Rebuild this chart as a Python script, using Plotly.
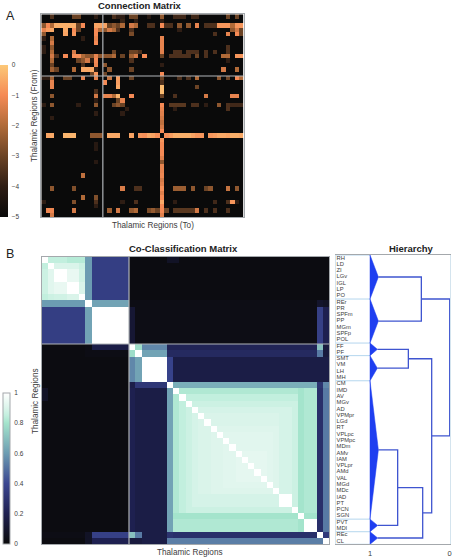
import numpy as np
import plotly.graph_objects as go

W, H = 455, 559
REGIONS = ["RH","LD","ZI","LGv","IGL","LP","PO","REr","PR","SPFm","PP","MGm","SPFp","POL",
           "FF","PF","SMT","VM","LH","MH","CM","IMD","AV","MGv","AD","VPMpr","LGd","RT",
           "VPLpc","VPMpc","MDm","AMv","IAM","VPLpr","AMd","VAL","MGd","MDc","IAD","PT",
           "PCN","SGN","PVT","MDI","REc","CL"]

# Connection matrix: row -> {column: log10 strength}; everything else is the -5 floor
CONN = {
 0: {2:-3.5,7:-3,8:-3,12:-4,16:-3.5,17:-4,18:-4,20:-3,21:-3,24:-4.2,27:-2.5,30:-3.7,31:-3.7,32:-3.7,34:-3.7,35:-3.7,42:-3,44:-3},
 1: {18:-3.8,21:-4,27:-4},
 2: {0:-2.5,1:-1,2:-2,3:-.4,4:-.4,5:-.4,6:-.4,7:-.4,8:-3,9:-1,12:-.6,13:-.6,14:-.6,15:-3,16:-2.5,17:-3,18:-2,20:-1.5,21:-2,24:-3.5,25:-3.5,27:-1,28:-3.5,29:-3.5,31:-2.5,33:-2.5,35:-1.2,37:-3.5,38:-3.5,39:-3.5,40:-.8,41:-.8,42:-.8,43:-2,44:-.8,45:-.8},
 3: {0:-1.2,1:-.7,2:-.5,5:-.5,7:-1,8:-3,12:-1,13:-2,14:-2.5,15:-1.5,16:-2,17:-3.5,20:-3.5,31:-4,43:-2.5,44:-1.5,45:-3},
 4: {0:-2.5,5:-.6,7:-.8,12:-1,20:-2.8,39:-3.5,42:-1.2,44:-1,45:-3},
 5: {0:-4,2:-2,9:-4,12:-1.2,27:-1.2},
 6: {2:-1.5,12:-1,27:-1.2},
 7: {0:-4,2:-2.5,27:-1.2,42:-3.5},
 8: {0:-4,2:-2,7:-1.5,16:-3,20:-3,21:-3,22:-3.5,27:-1.3,30:-3.5,31:-3.5,33:-3.5,34:-3.5,35:-3.5,37:-3.5,39:-3.5,42:-3.5},
 9: {2:-1.5,3:-3.5,5:-1,7:-.9,8:-.9,9:-2,10:-2.5,11:-2.5,12:-1.2,13:-2.5,14:-2.5,15:-2.5,16:-2,18:-3,20:-2.2,21:-1.5,23:-1,27:-3,29:-3.5,30:-3.5,31:-3.5,32:-3.5,33:-3.5,35:-3,37:-3.5,41:-2,42:-2,44:-.8,45:-.8},
 10:{2:-2,8:-3,9:-2.5,10:-1.5,11:-4,12:-1,20:-3.5,42:-4},
 11:{2:-3,9:-3.5,12:-1.1,14:-2.5,27:-4},
 12:{2:-2.2,3:-3,7:-2,9:-.5,10:-.5,11:-.5,12:-4,15:-2.5,20:-3,41:-1.5,44:-2},
 13:{11:-3,12:-.8,14:-3,27:-1},
 14:{0:-4,1:-4,2:-2.2,5:-3,6:-3,9:-1.2,12:-1.2,15:-1.7,17:-.7,20:-3,27:-3,31:-3.5,33:-3.5,35:-2,40:-2.5,42:-3,44:-1,45:-2},
 15:{2:-1.2,14:-1,17:-.7,27:-3.5},
 16:{2:-1.2,17:-.5,27:-.2,35:-3},
 17:{12:-3.5,27:-.2},
 18:{2:-2.5,12:-1.5,14:-1.2,15:-1.2,16:-2,17:-.3,20:-1,27:-3,30:-3.5,37:-1.5,43:-1.2,44:-1.2},
 19:{12:-4,17:-3,18:-1.2},
 20:{0:-4,2:-2.5,8:-4,12:-2.5,16:-3,17:-2.5,18:-3,27:-1,29:-3.3,30:-3.3,31:-3.3,32:-3.3,34:-3.5,35:-3.5,37:-4,40:-2.5,42:-3.5,43:-3.7,44:-3.7,45:-3.7},
 21:{19:-4,27:-1.2,30:-4,42:-3.5},
 22:{12:-4,18:-4,27:-1.3},
 23:{2:-4,27:-1.5},
 24:{27:-1.8},
 25:{27:-1.5},
 26:{27:-1},
 27:{1:-.6,2:-.5,5:-.3,6:-.3,7:-.3,11:-2.5,12:-2.5,13:-2.5,15:-.5,16:-.5,17:-.5,20:-.6,22:-.8,23:-.9,24:-.5,25:-.6,26:-.9,28:-.9,29:-.7,30:-.4,31:-.4,32:-.4,33:-.4,34:-.6,35:-.8,36:-.8,38:-.8,39:-.7,40:-.5,41:-.5,42:-.6,43:-.4,44:-.4,45:-.5},
 28:{27:-.8},
 29:{12:-4.2,27:-1},
 30:{12:-4.2,27:-1},
 31:{27:-1},
 32:{27:-1.3},
 33:{12:-4.2,27:-2.5},
 34:{27:-1.2},
 35:{27:-1.2},
 36:{9:-1.8,27:-1.1},
 37:{27:-1.5},
 38:{27:-1.3},
 39:{2:-2.5,7:-2.7,18:-1.4,21:-3.5,22:-3.5,27:-.9,30:-2.3,31:-2.3,32:-2.3,34:-2.5,37:-3,38:-2.5,42:-1.7,44:-2.5},
 40:{27:-1.3},
 41:{9:-2,12:-2.7,27:-1},
 42:{0:-4,7:-2.7,12:-3.5,18:-4,21:-3.5,27:-.5,30:-4,39:-3.7,42:-3.5,43:-.8,44:-4},
 43:{12:-4,27:-1},
 44:{1:-1.1,2:-1.1,7:-1.5,15:-2.3,17:-1.5,20:-2.4,21:-2,24:-2.8,25:-2.4,26:-3,27:-1,28:-3,30:-3.3,31:-3.3,32:-3.3,33:-3.3,34:-3.3,35:-1.5,37:-3.5,39:-3.5,42:-3.5},
 45:{2:-1.5,27:-1.3},
}
CONN_FLOOR = -5

# Co-classification matrix, percent, as (value, repeat) runs along each row
TOP_LEFT = [
 [(100,1),(85,3),(83,3)],
 [(85,1),(100,1),(90,4),(87,1)],
 [(87,1),(92,1),(100,2),(94,2),(88,1)],
 [(87,1),(92,1),(100,2),(94,2),(88,1)],
 [(87,1),(92,1),(94,2),(100,2),(90,1)],
 [(87,1),(92,1),(94,2),(100,2),(90,1)],
 [(85,1),(87,1),(88,2),(90,2),(100,1)],
]
TOP_RIGHT = [(60,1),(36,6),(2,32)]
ROW0_RIGHT = [(60,1),(36,6),(2,6),(8,2),(2,24)]
ROW7 = [(60,7),(100,1),(62,6),(3,30),(10,1),(8,1)]
ROW8_13 = [(36,7),(62,1),(100,6),(12,1),(3,29),(37,1),(20,1)]
ROW14 = [(2,7),(3,1),(17,6),(100,1),(78,1),(55,4),(22,24),(70,1),(15,1)]
ROW15 = [(2,7),(3,1),(3,6),(78,1),(100,1),(62,4),(25,24),(52,1),(15,1)]
ROW16_19 = [(2,14),(55,1),(62,1),(100,4),(38,1),(17,25)]
ROW20 = [(2,14),(18,1),(32,5),(100,1),(65,23),(30,1),(55,1)]
BIG_LEFT = [(2,14),(20,1),(17,5),(62,1)]
BIG_RIGHT = [(28,1),(52,1)]
PREFIX = [(82,1),(85,1),(87,1),(89,1),(90,2),(91,2),(92,2)]
TAIL = [(91,1),(89,2),(87,1),(80,1),(82,2)]
BIG_INNER = [
 [(100,1),(82,19),(80,1),(82,2)],
 [(82,1),(100,1),(85,18),(80,1),(82,2)],
 [(82,1),(85,1),(100,1),(87,17),(80,1),(82,2)],
 [(82,1),(85,1),(87,1),(100,1),(89,15),(87,1),(80,1),(82,2)],
 [(82,1),(85,1),(87,1),(89,1),(100,1),(90,12),(89,2),(87,1),(80,1),(82,2)],
 [(82,1),(85,1),(87,1),(89,1),(90,1),(100,1),(90,11),(89,2),(87,1),(80,1),(82,2)],
 [(82,1),(85,1),(87,1),(89,1),(90,2),(100,1),(91,10),(89,2),(87,1),(80,1),(82,2)],
 [(82,1),(85,1),(87,1),(89,1),(90,2),(91,1),(100,1),(92,8)]+TAIL,
 [(82,1),(85,1),(87,1),(89,1),(90,2),(91,2),(100,1),(92,7)]+TAIL,
 [(82,1),(85,1),(87,1),(89,1),(90,2),(91,2),(92,1),(100,1),(92,6)]+TAIL,
 PREFIX+[(100,1),(93,4),(92,1)]+TAIL,
 PREFIX+[(93,1),(100,1),(93,3),(92,1)]+TAIL,
 PREFIX+[(93,2),(100,1),(93,2),(92,1)]+TAIL,
 PREFIX+[(93,3),(100,1),(93,1),(92,1)]+TAIL,
 PREFIX+[(93,4),(100,1),(92,1)]+TAIL,
 PREFIX+[(92,5),(100,1)]+TAIL,
 [(82,1),(85,1),(87,1),(89,1),(90,2),(91,2),(91,8),(100,1),(89,2),(87,1),(80,1),(82,2)],
 [(82,1),(85,1),(87,1),(89,14),(100,2),(87,1),(80,1),(82,2)],
 [(82,1),(85,1),(87,1),(89,14),(100,2),(87,1),(80,1),(82,2)],
 [(82,1),(85,1),(87,17),(100,1),(80,1),(82,2)],
 [(80,20),(100,1),(80,2)],
 [(82,20),(80,1),(100,2)],
 [(82,20),(80,1),(100,2)],
]
ROW21_22_LEFT = [(8,1),(2,13),(20,1),(17,5),(62,1)]
ROW44 = [(3,7),(8,1),(37,6),(70,1),(52,1),(17,4),(30,1),(28,23),(100,1),(33,1)]
ROW45 = [(2,7),(8,1),(20,6),(15,2),(17,4),(53,25),(100,1)]

# Dendrogram: clusters by leaf count, their apex similarity, and the merges
CLUSTER_SIZES = [7, 7, 2, 4, 22, 2, 2]
CLUSTER_APEX = [.895, .895, .908, .908, .895, .904, .904]
MERGES = [(0, 1, .356), (2, 3, .519), (4, 5, .653), (9, 6, .339), (8, 10, .226), (7, 11, 0.0)]
CONN_TICKS = [0, -1, -2, -3, -4, -5]
CO_TICKS = [0, .2, .4, .6, .8, 1]

CONN_SCALE = [[0, "#0a0a0a"], [.2, "#2e1d14"], [.4, "#6b4325"], [.6, "#b06a38"], [.8, "#f58a55"], [1, "#fcc878"]]
CO_SCALE = [[0, "#0a0a0a"], [.2, "#1e2050"], [.4, "#3a4690"], [.6, "#6c9cb2"], [.8, "#a4e4cc"], [.85, "#c2efde"], [.9, "#daf4ea"], [1, "#ffffff"]]
GREY = "#a4a8ac"; TXT = "#3c3c3c"; FONT = "Liberation Sans"


def expand(runs):
    return [v for v, n in runs for _ in range(n)]


z_conn = np.full((46, 46), float(CONN_FLOOR))
for r, cells in CONN.items():
    for c, v in cells.items():
        z_conn[r, c] = v

rows = []
for i, tl in enumerate(TOP_LEFT):
    rows.append(expand(tl + (ROW0_RIGHT if i == 0 else TOP_RIGHT)))
rows.append(expand(ROW7))
rows += [expand(ROW8_13)] * 6
rows.append(expand(ROW14))
rows.append(expand(ROW15))
rows += [expand(ROW16_19)] * 4
rows.append(expand(ROW20))
for i, inner in enumerate(BIG_INNER):
    rows.append(expand((ROW21_22_LEFT if i < 2 else BIG_LEFT) + inner + BIG_RIGHT))
rows.append(expand(ROW44))
rows.append(expand(ROW45))
z_co = np.array(rows, dtype=float) / 100


def px(x): return x / W
def py(y): return 1 - y / H


fig = go.Figure()
fig.add_trace(go.Heatmap(z=z_conn, zmin=-5, zmax=0, colorscale=CONN_SCALE, xaxis="x", yaxis="y", hoverinfo="skip",
    colorbar=dict(x=0, xanchor="left", xpad=0, ypad=0, y=py(217), yanchor="bottom", lenmode="pixels", len=152,
                  thicknessmode="pixels", thickness=7.5, outlinewidth=0, tickvals=CONN_TICKS,
                  ticks="outside", ticklen=3, tickcolor="rgba(0,0,0,0)", tickfont=dict(size=6.5, color=TXT, family=FONT))))
fig.add_trace(go.Heatmap(z=z_co, zmin=0, zmax=1, colorscale=CO_SCALE, xaxis="x2", yaxis="y2", hoverinfo="skip",
    colorbar=dict(x=px(2.5), xanchor="left", xpad=0, ypad=0, y=py(544), yanchor="bottom", lenmode="pixels", len=151,
                  thicknessmode="pixels", thickness=7, outlinewidth=1, outlinecolor=GREY, tickvals=CO_TICKS,
                  ticktext=["0", "0.2", "0.4", "0.6", "0.8", "1"],
                  ticks="outside", ticklen=3, tickcolor="rgba(0,0,0,0)", tickfont=dict(size=6.5, color=TXT, family=FONT))))

# Hierarchy panel: group bars, filled triangles, merge brackets, labels
starts = np.cumsum([0] + CLUSTER_SIZES)
for b in starts:
    fig.add_trace(go.Scatter(x=[1.43, 1], y=[b - .5, b - .5], mode="lines", line=dict(color="#b4d6ee", width=1),
                             xaxis="x3", yaxis="y3", hoverinfo="skip", showlegend=False))
node_y, node_x = [], []
for i, n in enumerate(CLUSTER_SIZES):
    a, b = starts[i] - .5, starts[i + 1] - .5
    mid = (a + b) / 2
    node_y.append(mid); node_x.append(CLUSTER_APEX[i])
    fig.add_trace(go.Scatter(x=[1, CLUSTER_APEX[i], 1, 1], y=[a, mid, b, a], mode="lines", fill="toself",
                             fillcolor="#1f3ff0", line=dict(color="#1f3ff0", width=.5), xaxis="x3", yaxis="y3",
                             hoverinfo="skip", showlegend=False))
for c1, c2, h in MERGES:
    fig.add_trace(go.Scatter(x=[node_x[c1], h, h, node_x[c2]], y=[node_y[c1], node_y[c1], node_y[c2], node_y[c2]],
                             mode="lines", line=dict(color="#3f55d0", width=1.3), xaxis="x3", yaxis="y3",
                             hoverinfo="skip", showlegend=False))
    node_y.append((node_y[c1] + node_y[c2]) / 2); node_x.append(h)
fig.add_trace(go.Scatter(x=[1.42] * len(REGIONS), y=list(range(len(REGIONS))), text=REGIONS, mode="text",
                         textposition="middle right", textfont=dict(size=5.8, color=TXT, family=FONT),
                         xaxis="x3", yaxis="y3", hoverinfo="skip", showlegend=False))

hidden = dict(showticklabels=False, ticks="", showgrid=False, zeroline=False, showline=True, mirror=True,
              linecolor=GREY, linewidth=1)
fig.update_layout(
    width=W, height=H, margin=dict(l=0, r=0, t=0, b=0), paper_bgcolor="white", plot_bgcolor="white", showlegend=False,
    xaxis=dict(hidden, domain=[px(41.3), px(243.5)], range=[-.5, 45.5], anchor="y"),
    yaxis=dict(hidden, domain=[py(217), py(14.3)], range=[45.5, -.5], anchor="x"),
    xaxis2=dict(hidden, domain=[px(41.5), px(329)], range=[-.5, 45.5], anchor="y2"),
    yaxis2=dict(hidden, domain=[py(544), py(256.5)], range=[45.5, -.5], anchor="x2"),
    xaxis3=dict(domain=[px(336), px(450.3)], range=[1.427, -.0075], tickvals=[1, 0], ticktext=["1", "0"],
                ticks="outside", ticklen=2, tickcolor="rgba(0,0,0,0)",
                showgrid=False, zeroline=False, showline=True, mirror=True, linecolor=GREY, linewidth=1,
                tickfont=dict(size=7.5, color=TXT, family=FONT), anchor="y3"),
    yaxis3=dict(domain=[py(544.3), py(255)], range=[45.5, -.5], showticklabels=False, ticks="", showgrid=False,
                zeroline=False, showline=True, mirror=True, linecolor="#d4e4ee", linewidth=1, anchor="x3"),
)
for ax, ay in (("x", "y"), ("x2", "y2")):
    fig.add_shape(type="line", xref=ax, yref=ay, x0=13.5, x1=13.5, y0=-.5, y1=45.5, line=dict(color="#b0b4b8", width=1.2))
    fig.add_shape(type="line", xref=ax, yref=ay, x0=-.5, x1=45.5, y0=13.5, y1=13.5, line=dict(color="#b0b4b8", width=1.2))


def note(text, x, y, size, bold=False, angle=0, color=TXT):
    fig.add_annotation(text=f"<b>{text}</b>" if bold else text, x=px(x), y=py(y), xref="paper", yref="paper",
                       showarrow=False, textangle=angle, font=dict(size=size, color=color, family=FONT),
                       xanchor="center", yanchor="middle")


note("Connection Matrix", 140, 6, 9.5, bold=True, color="#222222")
note("Co-Classification Matrix", 183, 248, 9.5, bold=True, color="#222222")
note("Hierarchy", 411, 248, 9.5, bold=True, color="#222222")
note("Thalamic Regions (To)", 153, 225, 8.2)
note("Thalamic Regions (From)", 34, 116, 8.2, angle=-90)
note("Thalamic Regions", 190, 552, 8.2)
note("Thalamic Regions", 35, 401, 8.2, angle=-90)
note("A", 10, 16, 12.5, color="#222222")
note("B", 10, 254, 12.5, color="#222222")

fig.write_html("out.html", config={"displayModeBar": False},
               post_script="document.body.style.margin='0';document.documentElement.style.overflow='hidden';")
